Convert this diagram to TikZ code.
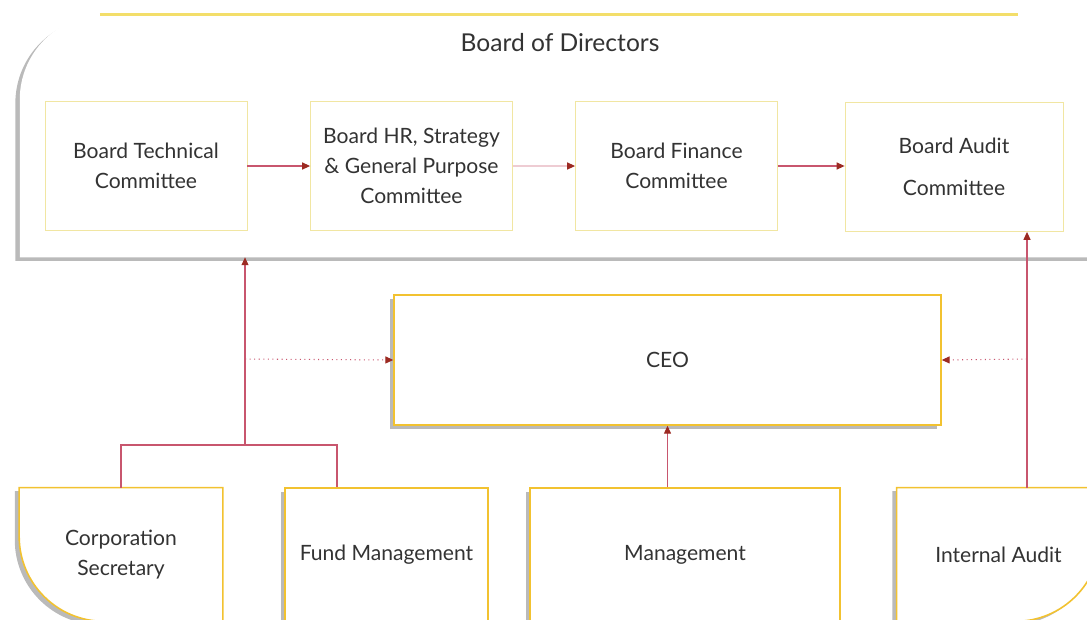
\documentclass[tikz,border=0pt]{standalone}
\usepackage{fontspec}
\setmainfont{Lato}
\usetikzlibrary{arrows.meta,shadows,calc,backgrounds}

\definecolor{boxyellow}{HTML}{F2C230}
\definecolor{paleyellow}{HTML}{F1E6A2}
\definecolor{topyellow}{HTML}{F3DE6A}
\definecolor{linkred}{HTML}{C8566E}
\definecolor{tipred}{HTML}{9C2A22}
\definecolor{txtgray}{HTML}{333333}

\tikzset{
  shade box/.style={drop shadow={shadow xshift=-2.5pt, shadow yshift=-2pt, fill=black!60, opacity=.45}},
  boxfont/.style={font=\fontsize{12}{17}\selectfont, text=txtgray, align=center},
  frame/.style={minimum width=21.6cm, minimum height=4.84cm, inner sep=0pt},
  title/.style={font=\fontsize{14}{17}\selectfont, text=txtgray},
  committee/.style={boxfont, draw=paleyellow, line width=0.5pt, fill=white,
    minimum width=4.04cm, minimum height=2.58cm, inner sep=0pt},
  cornerbox/.style={boxfont, minimum width=4.06cm, minimum height=2.66cm, inner sep=0pt},
  unitbox/.style={cornerbox, draw=boxyellow, line width=0.9pt, fill=white, shade box},
  boxline/.style={draw=boxyellow, line width=0.9pt, fill=white},
  topline/.style={topyellow, line width=1.4pt},
  link/.style={linkred, line width=0.6pt, -{Triangle[length=4.5pt, width=4pt, color=tipred]}},
  dotlink/.style={link, dotted},
  faintlink/.style={link, linkred!30},
  bracket/.style={linkred, line width=0.8pt},
}

\begin{document}
\begin{tikzpicture}[x=0.02cm, y=-0.02cm]
\useasboundingbox (0,0) rectangle (1087,619);

% board of directors frame, round corner at the top left only
\node[frame] (board) at (560,136) {};
\fill[white, shade box] (board.south west) -- ($(board.north west)+(0,85)$)
  .. controls ($(board.north west)+(0,38)$) and ($(board.north west)+(38,0)$) .. ($(board.north west)+(85,0)$)
  -- (board.north east) -- (board.south east) -- cycle;
\draw[topline] ($(board.north west)+(80,0)$) -- ($(board.north east)+(-82,0)$);
\node[title] (bod) at (560,43) {Board of Directors};

% committees
\node[committee] (btc) at (146,166) {Board Technical\\Committee};
\node[committee] (bhr) at (411.5,166) {Board HR, Strategy\\\& General Purpose\\Committee};
\node[committee] (bfc) at (676.5,166) {Board Finance\\Committee};
\node[committee, minimum width=4.36cm] (bac) at (954,167) {Board Audit\\[7pt]Committee};

% CEO
\node[unitbox, minimum width=10.94cm, minimum height=2.6cm] (ceo) at (667.5,360) {CEO};

% bottom row
\node[cornerbox] (cs) at (121,554.5) {Corporation\\Secretary};
\node[unitbox] (fm) at (386.5,554.5) {Fund Management};
\node[unitbox, minimum width=6.2cm] (mg) at (685,554.5) {Management};
\node[cornerbox] (ia) at (998.5,554.5) {Internal Audit};

% the two boxes with one round corner
\begin{scope}[on background layer]
\filldraw[boxline, shade box] (cs.south east) -- (cs.north east) -- (cs.north west) -- ($(cs.south west)+(0,-85)$)
  .. controls ($(cs.south west)+(0,-38)$) and ($(cs.south west)+(38,0)$) .. ($(cs.south west)+(85,0)$) -- cycle;
\filldraw[boxline, shade box] (ia.south west) -- (ia.north west) -- (ia.north east) -- ($(ia.south east)+(0,-85)$)
  .. controls ($(ia.south east)+(0,-38)$) and ($(ia.south east)+(-38,0)$) .. ($(ia.south east)+(-85,0)$) -- cycle;
\end{scope}

% connectors
\coordinate (lj) at (245,445);
\coordinate (lm) at (245,359);
\coordinate (rm) at (1027,359);

\draw[link] (btc.east) -- (bhr.west);
\draw[faintlink] (bhr.east) -- (bfc.west);
\draw[link] (bfc.east) -- (bfc.east -| bac.west);

\draw[bracket] (cs.north) |- (lj) -| ([xshift=-0.99cm]fm.north);
\draw[link] (lj) -- (lj |- board.south);
\draw[dotlink] (lm) -- (ceo.west);
\draw[link] (mg.north -| ceo.south) -- (ceo.south);
\draw[link] (ia.north -| rm) -- (rm |- bac.south);
\draw[dotlink] (rm) -- (ceo.east);
\end{tikzpicture}
\end{document}
